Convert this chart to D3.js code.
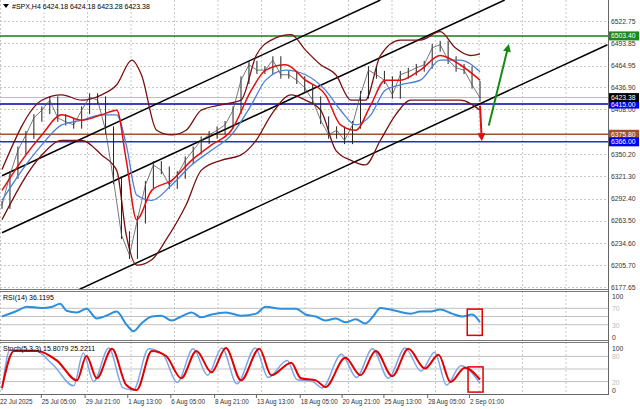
<!DOCTYPE html>
<html>
<head>
<meta charset="UTF-8">
<style>
  body { margin: 0; background: #fff; }
  text { font-family: "Liberation Sans", Arial, sans-serif; }
</style>
<script src="https://cdnjs.cloudflare.com/ajax/libs/d3/7.9.0/d3.min.js"></script>
</head>
<body>
<div id="chart"></div>
<script>
// ---- data (bar index 0..60, one index ~ 8 px of the reference) ----
const closes = [6284, 6323, 6355, 6375, 6397, 6407, 6420, 6397, 6392, 6388,
  6407, 6424, 6420, 6381, 6316, 6245, 6219, 6265, 6310, 6336,
  6329, 6310, 6323, 6342, 6355, 6368, 6375, 6381, 6388, 6407,
  6446, 6466, 6459, 6459, 6472, 6453, 6453, 6446, 6436, 6420,
  6394, 6375, 6381, 6368, 6388, 6427, 6459, 6453, 6446, 6427,
  6453, 6457, 6462, 6466, 6488, 6492, 6472, 6462, 6459, 6440, 6423];

// [index, price]
const bbUpper = [[0,6330],[5,6420],[7.5,6427],[10,6420],[12.5,6427],[14.4,6440],[16.3,6472],[17.5,6453],
  [19.4,6381],[21.3,6375],[23.1,6381],[25,6407],[27.5,6414],[30,6420],[31.9,6478],[33.8,6498],
  [36.3,6505],[38.1,6485],[40,6466],[41.9,6453],[43.8,6420],[45.6,6420],[47.5,6478],[50,6498],
  [52.5,6498],[55,6509],[56.9,6488],[58.8,6478],[60,6480]];
const bbLower = [[0,6265],[5,6349],[7.5,6368],[10,6368],[12.5,6349],[14.4,6329],[15.6,6245],[16.9,6206],
  [18.8,6213],[20.6,6239],[23.1,6284],[25,6329],[27.5,6342],[30,6349],[31.9,6368],[33.8,6401],
  [36.3,6427],[38.1,6420],[40,6407],[41.9,6355],[43.8,6342],[45.6,6336],[47.5,6368],[49.4,6401],
  [51.3,6420],[53.1,6420],[55,6420],[57.5,6420],[60,6407]];
const maFast = [[0,6303],[2.5,6342],[5,6375],[7.5,6401],[10,6394],[12.5,6401],[14.4,6407],[15.6,6342],
  [16.9,6265],[18.8,6303],[21.3,6316],[23.8,6342],[26.3,6362],[28.8,6381],[31.3,6433],[33.1,6459],
  [35.6,6466],[38.1,6446],[40.6,6427],[42.5,6388],[44.4,6381],[46.3,6414],[48.1,6446],[50,6446],
  [52.5,6459],[55,6478],[57.5,6466],[60,6446]];
const maSlow = [[0,6290],[2.5,6329],[5,6362],[7.5,6388],[10,6394],[12.5,6401],[14.4,6401],[15.6,6362],
  [16.9,6297],[18.8,6290],[21.3,6310],[23.8,6336],[26.3,6355],[28.8,6375],[31.3,6414],[33.1,6446],
  [35.6,6459],[38.1,6453],[40.6,6433],[42.5,6407],[44.4,6388],[46.3,6401],[48.1,6433],[50,6440],
  [52.5,6446],[55,6472],[57.5,6472],[60,6457]];

// channel lines [[index, price],[index, price]]
const channels = [
  [[0,6322],[47.5,6550]],
  [[0,6248],[63.1,6550]],
  [[9.6,6174],[76,6492]]
];

const levels = [
  {price: 6503.40, color: "#1a7a1a", tag: "#1a8a1a", label: "6503.40"},
  {price: 6415.00, color: "#0000aa", tag: "#0000ee", label: "6415.00"},
  {price: 6375.80, color: "#a0522d", tag: "#a0522d", label: "6375.80"},
  {price: 6366.00, color: "#2233bb", tag: "#0000ee", label: "6366.00"}
];
const lastPrice = 6423.38;

const priceTicks = [6522.75, 6493.85, 6464.95, 6436.90, 6408.00, 6350.20, 6321.30, 6292.40, 6263.50, 6234.60, 6205.70, 6177.65];

const rsi = [[0,50],[1.9,64],[3.1,74],[5,71],[6.3,74],[7.3,81],[8.1,64],[9.4,60],[10.6,69],[11.9,45],
  [13.1,52],[14.4,62],[15.6,31],[16.5,14],[17.5,33],[18.8,50],[20,52],[21.3,40],[22.5,50],[23.8,60],
  [25,48],[26.3,55],[28.1,60],[30,52],[31.9,57],[33.1,74],[35,69],[36.9,69],[38.1,55],[39.4,50],
  [40.6,40],[41.9,45],[43.1,36],[44.4,43],[45.6,33],[46.5,48],[47.5,71],[49.4,64],[51.3,57],[52.5,62],
  [53.8,62],[55,67],[56.5,57],[57.8,50],[59,55],[60,36]];

const stochSignal = [[0,5],[1.5,93],[4.4,93],[6.9,70],[9.4,23],[10.6,81],[11.9,28],[13.8,98],[15.6,12],[16.9,0],
  [18.8,93],[20.6,81],[22.5,28],[24.4,93],[26.3,42],[28.1,100],[30,23],[32.3,98],[33.8,35],[36.3,65],
  [37.5,28],[39.4,23],[40.6,7],[43.1,77],[45,35],[46.9,93],[49,33],[51,98],[53.1,51],[54.8,84],
  [56.3,19],[58.1,53],[60,25]];
const stochMain = [[0,0],[1,95],[4,95],[6.4,60],[9,10],[10.2,88],[11.5,20],[13.4,100],[15.2,5],[16.5,0],
  [18.4,98],[20.2,85],[22,18],[24,98],[25.8,35],[27.6,100],[29.5,15],[31.8,100],[33.4,30],[35.8,70],
  [37,25],[39,20],[40.2,5],[42.6,85],[44.5,30],[46.5,98],[48.5,28],[50.6,100],[52.6,45],[54.3,90],
  [55.8,12],[57.6,58],[60,16]];

const timeLabels = ["22 Jul 2025", "25 Jul 05:00", "29 Jul 21:00", "1 Aug 13:00", "6 Aug 05:00", "8 Aug 21:00",
  "13 Aug 13:00", "18 Aug 05:00", "20 Aug 21:00", "25 Aug 13:00", "28 Aug 05:00", "2 Sep 01:00"];
const timeLabelIdx = [0, 5.25, 10.75, 16.1, 21.5, 27, 32.25, 37.75, 43, 48.25, 53.75, 59];

// ---- layout ----
const W = 640, H = 409, plotR = 608;
const svg = d3.select("#chart").append("svg").attr("width", W).attr("height", H);

const x = d3.scaleLinear().domain([0, 60]).range([2, 480]);
const yP = d3.scaleLinear().domain([6177.65, 6522.75]).range([287, 21]);
const yR = d3.scaleLinear().domain([0, 100]).range([337, 296]);
const yS = d3.scaleLinear().domain([0, 100]).range([390, 348]);

const panels = [[0, 289], [291, 340], [342, 393]];

const defs = svg.append("defs");
panels.forEach((p, i) => {
  defs.append("clipPath").attr("id", "clip" + i)
    .append("rect").attr("x", 0).attr("y", p[0]).attr("width", plotR).attr("height", p[1] - p[0]);
});

// grid
const gridX = d3.range(0, plotR, 43.5);
panels.forEach(p => {
  svg.append("g").selectAll("line").data(gridX).join("line")
    .attr("x1", d => d + 0.5).attr("x2", d => d + 0.5).attr("y1", p[0]).attr("y2", p[1])
    .attr("stroke", "#c8c8c8").attr("stroke-dasharray", "2,2");
});
svg.append("g").selectAll("line").data(priceTicks).join("line")
  .attr("x1", 0).attr("x2", plotR).attr("y1", d => Math.round(yP(d)) + 0.5).attr("y2", d => Math.round(yP(d)) + 0.5)
  .attr("stroke", "#c8c8c8").attr("stroke-dasharray", "2,2");

// main panel
const gm = svg.append("g").attr("clip-path", "url(#clip0)");

levels.forEach(l => {
  gm.append("line").attr("x1", 0).attr("x2", plotR).attr("y1", yP(l.price)).attr("y2", yP(l.price))
    .attr("stroke", l.color).attr("stroke-width", 1.5);
});
gm.append("line").attr("x1", 0).attr("x2", plotR).attr("y1", yP(lastPrice)).attr("y2", yP(lastPrice))
  .attr("stroke", "#bbb").attr("stroke-width", 1);

channels.forEach(c => {
  gm.append("line").attr("x1", x(c[0][0])).attr("y1", yP(c[0][1])).attr("x2", x(c[1][0])).attr("y2", yP(c[1][1]))
    .attr("stroke", "#000").attr("stroke-width", 1.5);
});

const ln = d3.line().x(d => x(d[0])).y(d => yP(d[1])).curve(d3.curveMonotoneX);
gm.append("path").attr("d", ln(bbUpper)).attr("fill", "none").attr("stroke", "#7a1010").attr("stroke-width", 1.3);
gm.append("path").attr("d", ln(bbLower)).attr("fill", "none").attr("stroke", "#7a1010").attr("stroke-width", 1.3);

// price bars
const bars = closes.map((c, i) => ({i, o: i ? closes[i - 1] : c, c}));
gm.append("g").selectAll("line").data(bars).join("line")
  .attr("x1", d => x(d.i)).attr("x2", d => x(d.i))
  .attr("y1", d => yP(Math.max(d.o, d.c) + 5)).attr("y2", d => yP(Math.min(d.o, d.c) - 5))
  .attr("stroke", "#222").attr("stroke-width", 1);
gm.append("path").attr("d", d3.line().x((d, i) => x(i)).y(d => yP(d))(closes))
  .attr("fill", "none").attr("stroke", "#555").attr("stroke-width", 0.8);

gm.append("path").attr("d", ln(maSlow)).attr("fill", "none").attr("stroke", "#4a7fd8").attr("stroke-width", 1.3);
gm.append("path").attr("d", ln(maFast)).attr("fill", "none").attr("stroke", "#e01010").attr("stroke-width", 1.5);

// arrows
defs.append("marker").attr("id", "ah-red").attr("viewBox", "0 0 10 10").attr("refX", 5).attr("refY", 5)
  .attr("markerWidth", 4).attr("markerHeight", 4).attr("orient", "auto")
  .append("path").attr("d", "M0,0L10,5L0,10z").attr("fill", "#e01010");
defs.append("marker").attr("id", "ah-green").attr("viewBox", "0 0 10 10").attr("refX", 5).attr("refY", 5)
  .attr("markerWidth", 4).attr("markerHeight", 4).attr("orient", "auto")
  .append("path").attr("d", "M0,0L10,5L0,10z").attr("fill", "#138a13");
gm.append("line").attr("x1", x(60)).attr("y1", yP(6413)).attr("x2", x(60.2)).attr("y2", yP(6372))
  .attr("stroke", "#e01010").attr("stroke-width", 2).attr("marker-end", "url(#ah-red)");
gm.append("line").attr("x1", x(61.1)).attr("y1", yP(6387)).attr("x2", x(63.5)).attr("y2", yP(6488))
  .attr("stroke", "#138a13").attr("stroke-width", 2).attr("marker-end", "url(#ah-green)");

// RSI panel
const gr = svg.append("g").attr("clip-path", "url(#clip1)");
[70, 50, 30].forEach(v => gr.append("line").attr("x1", 0).attr("x2", plotR)
  .attr("y1", yR(v)).attr("y2", yR(v)).attr("stroke", "#c0c0c0"));
gr.append("path").attr("d", d3.line().x(d => x(d[0])).y(d => yR(d[1])).curve(d3.curveMonotoneX)(rsi))
  .attr("fill", "none").attr("stroke", "#2d8fe0").attr("stroke-width", 2);
svg.append("rect").attr("x", x(58.4)).attr("y", yR(68)).attr("width", 15).attr("height", yR(4) - yR(68))
  .attr("fill", "none").attr("stroke", "#e00000").attr("stroke-width", 1.5);

// Stoch panel
const gs = svg.append("g").attr("clip-path", "url(#clip2)");
[80, 50, 20].forEach(v => gs.append("line").attr("x1", 0).attr("x2", plotR)
  .attr("y1", yS(v)).attr("y2", yS(v)).attr("stroke", "#c0c0c0"));
const ls = d3.line().x(d => x(d[0])).y(d => yS(d[1])).curve(d3.curveMonotoneX);
gs.append("path").attr("d", ls(stochMain)).attr("fill", "none").attr("stroke", "#7ea6e8").attr("stroke-width", 1.5);
gs.append("path").attr("d", ls(stochSignal)).attr("fill", "none").attr("stroke", "#e00000").attr("stroke-width", 2);
svg.append("rect").attr("x", x(58.5)).attr("y", yS(55)).attr("width", 15).attr("height", yS(-5) - yS(55))
  .attr("fill", "none").attr("stroke", "#e00000").attr("stroke-width", 1.5);

// frames & separators
svg.append("line").attr("x1", plotR + 0.5).attr("x2", plotR + 0.5).attr("y1", 0).attr("y2", 395).attr("stroke", "#666");
[289.5, 291.5, 340.5, 342.5].forEach(yy => svg.append("line").attr("x1", 0).attr("x2", plotR).attr("y1", yy).attr("y2", yy).attr("stroke", "#777"));
svg.append("line").attr("x1", 0).attr("x2", plotR).attr("y1", 394.5).attr("y2", 394.5).attr("stroke", "#666");

// right axis labels
const fs = 6.8;
svg.append("g").selectAll("text").data(priceTicks).join("text")
  .attr("x", 611).attr("y", d => yP(d) + 2.5).attr("font-size", fs).attr("fill", "#333").text(d => d.toFixed(2));

const tags = levels.map(l => ({price: l.price, bg: l.tag, label: l.label}))
  .concat([{price: lastPrice, bg: "#000", label: lastPrice.toFixed(2)}]);
tags.forEach(t => {
  const yy = yP(t.price);
  svg.append("rect").attr("x", 609).attr("y", yy - 4.5).attr("width", 30).attr("height", 9).attr("fill", t.bg);
  svg.append("text").attr("x", 611).attr("y", yy + 2.5).attr("font-size", fs).attr("fill", "#fff").text(t.label);
});

[[100, yR(100)], [0, yR(0)], [100, yS(100)], [0, yS(0)]].forEach(d => {
  svg.append("text").attr("x", 612).attr("y", d[1] + 3).attr("font-size", fs).attr("fill", "#333").text(d[0]);
});
[[70, yR], [30, yR], [80, yS], [20, yS]].forEach(d => {
  svg.append("text").attr("x", 612).attr("y", d[1](d[0]) + 3).attr("font-size", fs).attr("fill", "#bbb").text(d[0]);
});

// titles
svg.append("path").attr("d", "M3,4L9,4L6,8z").attr("fill", "#000");
svg.append("text").attr("x", 12).attr("y", 9).attr("font-size", 7).attr("fill", "#000")
  .text("#SPX,H4  6424.18 6424.18 6423.28 6423.38");
svg.append("text").attr("x", 3).attr("y", 300).attr("font-size", 7).attr("fill", "#000").text("RSI(14) 36.1195");
svg.append("text").attr("x", 3).attr("y", 351).attr("font-size", 7).attr("fill", "#000").text("Stoch(5,3,3) 15.8079 25.2211");

// time axis
svg.append("g").selectAll("text").data(timeLabels).join("text")
  .attr("x", (d, i) => x(timeLabelIdx[i]) - 2).attr("y", 404).attr("font-size", 6.3).attr("fill", "#333").text(d => d);
svg.append("g").selectAll("line").data(timeLabelIdx).join("line")
  .attr("x1", d => x(d) - 2.5).attr("x2", d => x(d) - 2.5).attr("y1", 395).attr("y2", 398).attr("stroke", "#666");
</script>
</body>
</html>
